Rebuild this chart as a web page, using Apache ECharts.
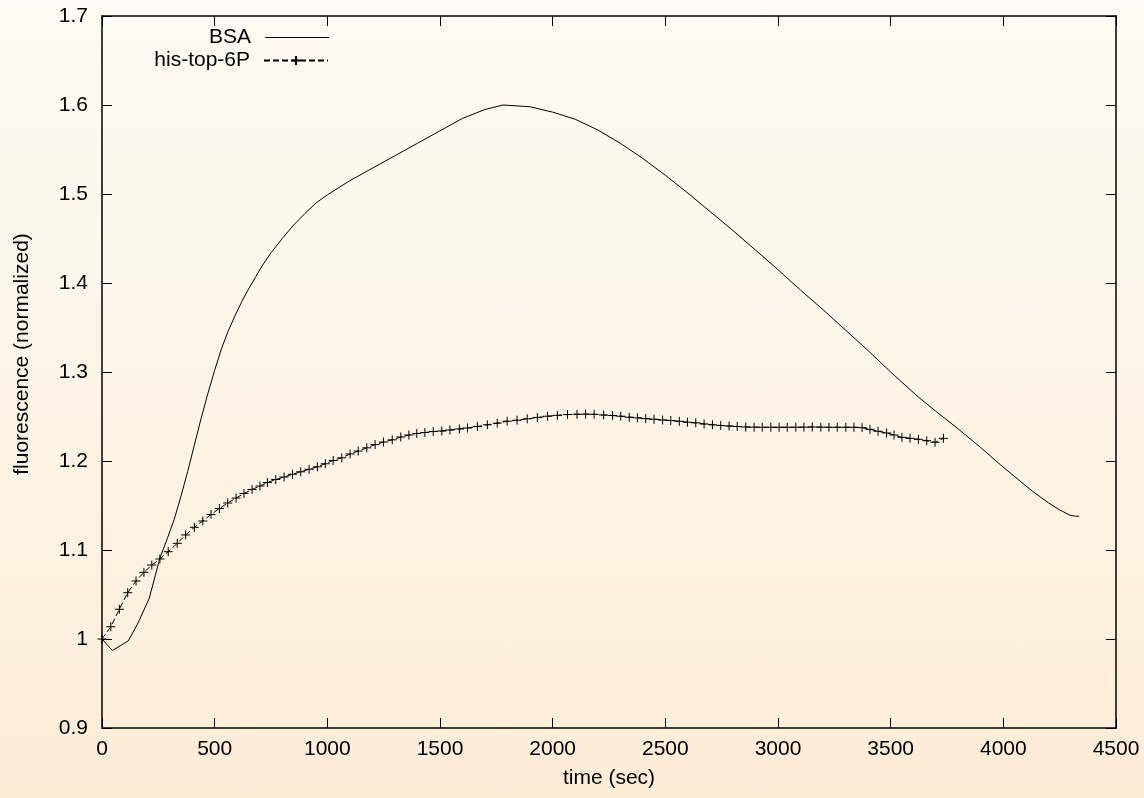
<!DOCTYPE html>
<html>
<head>
<meta charset="utf-8">
<script src="https://cdn.jsdelivr.net/npm/echarts@6/dist/echarts.min.js"></script>
<style>
html,body{margin:0;padding:0;}
#c{width:1144px;height:798px;background:linear-gradient(to bottom,#fefbf4 0%,#fdf3e4 60%,#fdecd6 100%);}
</style>
</head>
<body>
<div id="c"></div>
<script>
const xTicks = [0, 500, 1000, 1500, 2000, 2500, 3000, 3500, 4000, 4500];
const yTicks = [0.9, 1.0, 1.1, 1.2, 1.3, 1.4, 1.5, 1.6, 1.7];

const bsaTime = [0, 46, 117, 160, 210, 257, 290, 320, 350, 380, 410, 440, 470, 500, 530, 560, 590, 620, 650, 680, 710, 750, 800, 850, 900, 950, 1000, 1050, 1100, 1200, 1300, 1400, 1500, 1600, 1700, 1780, 1900, 2000, 2100, 2200, 2300, 2400, 2500, 2600, 2700, 2800, 2900, 3000, 3100, 3200, 3300, 3400, 3500, 3622, 3700, 3800, 3900, 3986, 4100, 4135, 4200, 4250, 4297, 4320, 4337];
const bsaValue = [1.000, 0.987, 0.998, 1.018, 1.046, 1.091, 1.113, 1.134, 1.160, 1.188, 1.218, 1.248, 1.276, 1.302, 1.326, 1.346, 1.363, 1.379, 1.393, 1.406, 1.419, 1.434, 1.450, 1.465, 1.478, 1.490, 1.499, 1.507, 1.515, 1.529, 1.543, 1.557, 1.571, 1.585, 1.595, 1.600, 1.598, 1.592, 1.584, 1.572, 1.557, 1.540, 1.521, 1.501, 1.480, 1.459, 1.437, 1.415, 1.392, 1.370, 1.347, 1.324, 1.300, 1.272, 1.256, 1.236, 1.215, 1.196, 1.172, 1.165, 1.153, 1.145, 1.139, 1.138, 1.138];

const hisTime = [0, 39, 77, 114, 151, 186, 221, 257, 294, 334, 371, 410, 447, 484, 521, 558, 595, 630, 666, 701, 734, 771, 808, 845, 882, 919, 956, 991, 1026, 1064, 1101, 1137, 1175, 1212, 1249, 1288, 1326, 1362, 1397, 1433, 1470, 1508, 1544, 1586, 1622, 1666, 1710, 1754, 1798, 1842, 1887, 1932, 1977, 2021, 2066, 2108, 2146, 2184, 2226, 2266, 2302, 2340, 2376, 2413, 2450, 2488, 2524, 2562, 2598, 2635, 2672, 2709, 2746, 2783, 2819, 2857, 2894, 2930, 2968, 3005, 3041, 3079, 3115, 3152, 3190, 3226, 3263, 3301, 3337, 3373, 3408, 3444, 3482, 3515, 3550, 3586, 3623, 3660, 3697, 3734];
const hisValue = [1.0000, 1.0138, 1.0334, 1.0520, 1.0652, 1.0749, 1.0831, 1.0899, 1.0981, 1.1075, 1.1169, 1.1255, 1.1326, 1.1399, 1.1466, 1.1528, 1.1584, 1.1635, 1.1680, 1.1719, 1.1758, 1.1792, 1.1820, 1.1851, 1.1879, 1.1907, 1.1935, 1.1969, 1.2006, 1.2036, 1.2079, 1.2112, 1.2148, 1.2184, 1.2213, 1.2238, 1.2270, 1.2292, 1.2309, 1.2320, 1.2331, 1.2337, 1.2348, 1.2360, 1.2371, 1.2388, 1.2407, 1.2425, 1.2447, 1.2458, 1.2474, 1.2489, 1.2503, 1.2513, 1.2522, 1.2525, 1.2526, 1.2525, 1.2517, 1.2511, 1.2503, 1.2492, 1.2485, 1.2476, 1.2469, 1.2461, 1.2455, 1.2446, 1.2436, 1.2429, 1.2416, 1.2407, 1.2399, 1.2393, 1.2388, 1.2382, 1.2380, 1.2379, 1.2379, 1.2379, 1.2379, 1.2379, 1.2380, 1.2382, 1.2380, 1.2379, 1.2379, 1.2379, 1.2379, 1.2375, 1.2356, 1.2334, 1.2315, 1.2292, 1.2266, 1.2255, 1.2244, 1.2228, 1.2210, 1.2255];

const seriesNames = ['BSA', 'his-top-6P'];

const bsaData = bsaTime.map((t, i) => [t, bsaValue[i]]);
const hisData = hisTime.map((t, i) => [t, hisValue[i]]);

const FONT = 'Liberation Sans, Arial, Helvetica, sans-serif';
const FS = 21;
const plus = 'path://M0,5 L10,5 M5,0 L5,10';

const chart = echarts.init(document.getElementById('c'), null, {renderer: 'canvas'});
const tickStyle = {show: true, inside: true, length: 10, lineStyle: {color: '#000', width: 1}};
const lineAx = {show: true, onZero: false, lineStyle: {color: '#000', width: 1.5}};
const legendText = {fontFamily: FONT, fontSize: FS, color: '#000', padding: [0, 9, 0, 0]};
chart.setOption({
  backgroundColor: 'transparent',
  animation: false,
  grid: {left: 102, right: 28, top: 16, bottom: 70, containLabel: false},
  legend: [
    {data: [{name: seriesNames[0], icon: 'rect'}], orient: 'vertical', right: 815, top: 27, align: 'right',
     itemWidth: 64, itemHeight: 1.2, textStyle: legendText, padding: 0},
    {data: [seriesNames[1]], orient: 'vertical', right: 815, top: 50, align: 'right',
     itemWidth: 64, itemHeight: 11, textStyle: legendText, padding: 0}
  ],
  xAxis: [
    {type: 'value', min: 0, max: 4500, interval: 500, position: 'bottom',
     name: 'time (sec)', nameLocation: 'middle', nameGap: 40,
     nameTextStyle: {fontFamily: FONT, fontSize: FS, color: '#000'},
     axisLine: lineAx, axisTick: tickStyle,
     axisLabel: {fontFamily: FONT, fontSize: FS, color: '#000', margin: 11, formatter: v => String(v)},
     splitLine: {show: false}},
    {type: 'value', min: 0, max: 4500, interval: 500, position: 'top',
     axisLine: lineAx, axisTick: tickStyle, axisLabel: {show: false}, splitLine: {show: false}}
  ],
  yAxis: [
    {type: 'value', min: 0.9, max: 1.7, interval: 0.1, position: 'left',
     name: 'fluorescence (normalized)', nameLocation: 'middle', nameGap: 69, nameRotate: 90,
     nameTextStyle: {fontFamily: FONT, fontSize: FS, color: '#000', padding: [0, 0, 0, 36]},
     axisLine: lineAx, axisTick: tickStyle,
     axisLabel: {fontFamily: FONT, fontSize: FS, color: '#000', margin: 14,
       formatter: v => Math.abs(v - 1) < 1e-9 ? '1' : v.toFixed(1)},
     splitLine: {show: false}},
    {type: 'value', min: 0.9, max: 1.7, interval: 0.1, position: 'right',
     axisLine: lineAx, axisTick: tickStyle, axisLabel: {show: false}, splitLine: {show: false}}
  ],
  series: [
    {name: seriesNames[0], type: 'line', data: bsaData, showSymbol: false, symbol: 'none',
     lineStyle: {color: '#000', width: 1}, itemStyle: {color: '#000'}},
    {name: seriesNames[1], type: 'line', data: hisData, symbol: plus, symbolSize: 9, showSymbol: true,
     lineStyle: {color: '#000', width: 1, type: [6, 3]},
     itemStyle: {color: '#000', borderColor: '#000', borderWidth: 1}}
  ]
});
</script>
</body>
</html>
